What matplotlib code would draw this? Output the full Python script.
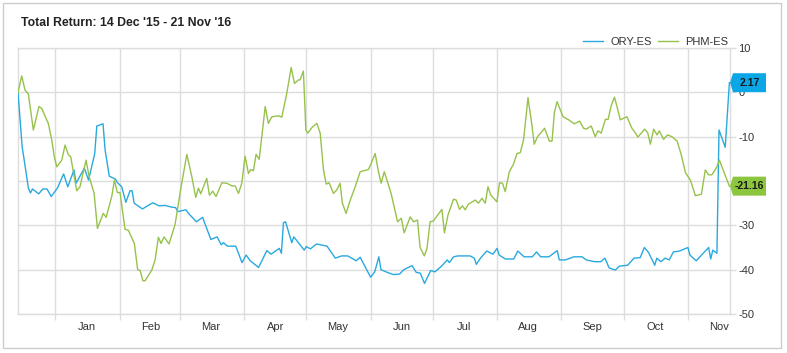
import matplotlib.pyplot as plt
import matplotlib.dates as mdates
import numpy as np
import pandas as pd
from matplotlib.patches import Rectangle, Polygon
from matplotlib.transforms import blended_transform_factory

# Total return series: day offset from the start date and % return
start_date = '2015-12-14'
end_day = 343.3

ory_days = [0, 2, 3, 5, 6, 7, 10, 12, 14, 16, 19, 22, 24, 27, 28, 32, 34, 37, 38, 41,
            42, 44, 47, 48, 50, 52, 54, 55, 56, 60, 65, 68, 71, 74, 76, 77, 81, 82, 86, 89,
            91, 93, 96, 98, 99, 101, 105, 108, 110, 112, 116, 120, 122, 126, 127, 128, 129, 132, 133, 138,
            139, 141, 144, 149, 153, 156, 159, 162, 163, 165, 170, 172, 174, 175, 178, 181, 184, 186, 190, 192,
            194, 196, 199, 201, 204, 207, 208, 210, 212, 218, 220, 221, 223, 226, 229, 231, 232, 235, 239, 241,
            244, 248, 250, 252, 256, 260, 261, 264, 268, 272, 274, 278, 281, 283, 285, 288, 290, 294, 297, 300,
            302, 304, 307, 308, 310, 312, 314, 316, 319, 323, 324, 327, 331, 333, 334, 335, 337, 338, 341, 343]
ory_vals = [0, -12.3, -15.3, -21.6, -22.7, -21.8, -22.9, -21.8, -21.8, -23.5, -21.6, -18.4, -21.3, -17.5, -20.5, -17.1, -19.8, -13.8, -7.6, -7.1,
            -13.0, -18.9, -19.6, -20.4, -21.3, -24.8, -22.2, -22.2, -25.0, -26.3, -24.9, -25.6, -25.5, -25.9, -26.0, -26.9, -26.5, -27.2, -29.2, -28.2,
            -30.7, -33.2, -32.6, -34.4, -33.9, -34.7, -34.7, -38.4, -36.7, -38.0, -39.5, -35.7, -36.5, -35.2, -36.3, -29.4, -29.2, -33.9, -32.6, -35.6,
            -34.8, -35.3, -34.2, -34.7, -37.4, -36.9, -36.9, -37.7, -38.0, -37.2, -41.7, -40.5, -37.1, -40.0, -40.6, -41.1, -41.0, -40.0, -39.1, -40.6,
            -40.8, -43.1, -40.2, -40.5, -39.3, -37.8, -38.4, -37.1, -36.9, -36.9, -37.4, -38.8, -37.4, -35.8, -36.5, -35.2, -36.7, -37.6, -37.6, -35.8,
            -37.1, -37.1, -36.0, -37.1, -37.1, -35.7, -37.8, -37.8, -37.1, -37.1, -37.8, -38.2, -38.2, -37.4, -39.6, -40.1, -39.2, -39.0, -37.4, -37.3,
            -35.0, -36.1, -39.0, -37.4, -38.2, -37.4, -37.8, -36.0, -35.8, -35.0, -36.7, -38.0, -36.0, -35.0, -37.6, -35.6, -36.3, -8.5, -12.4, 2.17]

phm_days = [0, 1.8, 3.4, 5, 7.4, 10.1, 11.4, 14.6, 16.3, 17.5, 18.7, 21.1, 22.7, 24.3, 25.4, 28.3, 29.9, 32.8, 34.3, 36.7,
            38.3, 41.1, 42.5, 45.2, 46.5, 47.9, 49.2, 51.6, 53.2, 56.1, 57.7, 58.9, 60.2, 61.3, 64.5, 66.1, 67.7, 69, 70.4, 72.8,
            75.7, 78.5, 81.4, 83.8, 85.7, 87, 88.1, 91, 92.3, 93.9, 95.5, 98.3, 100.7, 103.1, 104.7, 106.3, 107.9, 109.5, 111.1, 112.3,
            113.5, 114.8, 116.3, 119.2, 120.7, 122.4, 125.6, 127.2, 129.6, 131.7, 133.3, 135.2, 136, 137.6, 138.8, 139.7, 142, 144.1, 145.7, 147.3,
            148.6, 150, 152.1, 153.7, 155.3, 156.4, 158.2, 160.2, 162.6, 165, 169, 170.3, 172.2, 173.8, 175.1, 176.6, 179.9, 183, 184.8, 186.2,
            189.1, 190.7, 192.6, 193.9, 195.9, 197.2, 198.7, 200.3, 204.4, 205.6, 207.3, 210, 211.3, 212.9, 214.3, 215.6, 217.2, 220.5, 222, 223.7,
            225.3, 226.6, 228, 230.9, 232.2, 233.6, 234.9, 236.9, 238.9, 240.6, 242.2, 243.8, 245.9, 247.8, 248.9, 250.5, 253.9, 256.2, 257.5, 258.6,
            259.9, 262.8, 265.5, 268.2, 270.8, 272.7, 274, 276.4, 278.3, 279.6, 281.2, 283.2, 284.5, 286.1, 287.6, 288.8, 290.4, 293.6, 296, 297.3,
            298.9, 302.1, 303.6, 304.9, 306.5, 308.1, 309.2, 311.3, 313.2, 315.3, 317.8, 319.8, 321.8, 324.2, 326.6, 329.5, 331.4, 333, 334.6, 337,
            338.2, 340.3, 343]
phm_vals = [0, 3.7, 0.5, -0.4, -8.5, -3.2, -3.6, -7.0, -10.8, -14.5, -16.8, -15.3, -11.9, -14.1, -14.5, -22.2, -21.3, -15.3, -19.0, -22.8,
            -30.7, -27.3, -28.2, -23.5, -19.8, -22.6, -22.6, -30.9, -31.1, -34.1, -40.0, -40.2, -42.5, -42.5, -40.1, -37.8, -32.7, -34.1, -32.6, -34.2,
            -29.9, -21.7, -14.0, -19.0, -23.7, -21.6, -22.9, -19.4, -23.2, -22.3, -23.5, -20.4, -20.5, -21.1, -21.1, -22.8, -20.5, -14.4, -18.3, -17.4,
            -17.7, -14.0, -15.1, -3.2, -7.0, -5.5, -5.3, -5.6, -0.2, 5.6, 2.0, 2.8, 2.8, 4.8, -8.5, -9.2, -7.8, -7.0, -9.2, -17.5,
            -20.7, -20.4, -22.8, -22.0, -20.5, -25.0, -27.3, -24.3, -21.3, -17.9, -17.4, -16.0, -13.8, -17.9, -20.5, -17.9, -22.8, -29.2, -28.4, -31.7,
            -28.1, -29.2, -28.8, -35.0, -36.9, -35.2, -29.2, -29.0, -26.4, -31.7, -27.7, -24.1, -24.3, -26.4, -25.6, -26.5, -25.2, -24.3, -25.0, -23.9,
            -25.0, -21.3, -23.2, -24.7, -20.4, -20.5, -22.4, -17.9, -16.2, -13.8, -13.6, -10.6, -1.2, -7.4, -11.7, -10.0, -8.1, -11.0, -11.0, -4.6,
            -2.1, -5.5, -6.2, -7.1, -6.5, -8.1, -8.3, -7.6, -10.0, -8.7, -9.2, -6.1, -6.1, -2.9, -1.1, -3.2, -6.2, -5.5, -8.1, -8.9,
            -10.1, -8.3, -9.1, -11.7, -8.3, -9.6, -8.7, -10.6, -9.6, -10.0, -11.0, -14.1, -18.1, -19.8, -23.3, -23.0, -17.5, -18.6, -18.6, -16.8,
            -15.3, -17.9, -21.16]

series_names = ['ORY-ES', 'PHM-ES']
series_colors = ['#29a9df', '#97c24a']
label_colors = ['#0aa6e6', '#8cc63f']
last_labels = ['2.17', '-21.16']
y_ticks = [10, 0, -10, -20, -30, -40, -50]
y_hidden = [-20]  # covered by the PHM-ES tag in the reference
label_months = list(range(1, 12))  # Jan .. Nov
title = "Total Return: 14 Dec '15 - 21 Nov '16"

plt.rcParams['font.family'] = ['Liberation Sans', 'DejaVu Sans']
grid_color = '#dddddd'
text_color = '#333333'


def to_dates(days):
    return pd.Timestamp(start_date) + pd.to_timedelta(np.array(days, dtype=float), unit='D')


fig = plt.figure(figsize=(7.87, 3.53), dpi=100)
fig.patches.append(Rectangle((2.5 / 787, 5.5 / 353), 778 / 787, 345 / 353, transform=fig.transFigure,
                             fill=False, edgecolor='#cccccc', linewidth=1))
ax = fig.add_axes([18 / 787, 1 - 314 / 353, 712 / 787, 266 / 353])

ax.plot(to_dates(ory_days), ory_vals, color=series_colors[0], linewidth=1.0, label=series_names[0], zorder=3)
ax.plot(to_dates(phm_days), phm_vals, color=series_colors[1], linewidth=1.0, label=series_names[1], zorder=3)

ax.set_xlim(pd.Timestamp(start_date), pd.Timestamp(start_date) + pd.Timedelta(days=end_day))
ax.set_ylim(-50, 10)

# month boundaries carry the grid, month names sit mid-month
ax.xaxis.set_major_locator(mdates.MonthLocator(bymonthday=1))
ax.xaxis.set_major_formatter(plt.NullFormatter())
ax.xaxis.set_minor_locator(mdates.MonthLocator(bymonth=label_months, bymonthday=16))
ax.xaxis.set_minor_formatter(mdates.DateFormatter('%b'))
ax.tick_params(axis='x', which='major', length=4, color=grid_color, width=1)
ax.tick_params(axis='x', which='minor', length=0, pad=6, labelsize=8, labelcolor=text_color)

ax.set_yticks(y_ticks)
ax.set_yticklabels(['' if t in y_hidden else str(t) for t in y_ticks])
ax.yaxis.tick_right()
ax.tick_params(axis='y', length=4, color=grid_color, width=1, pad=2, labelsize=8, labelcolor=text_color)

ax.grid(True, which='major', color=grid_color, linewidth=1)
for s in ax.spines.values():
    s.set_color(grid_color)
    s.set_linewidth(1)

fig.text(21 / 787, 1 - 23 / 353, title, fontsize=8.8, fontweight='bold', color='#222222', va='center')

ax.legend(loc='lower right', bbox_to_anchor=(0.997, 1.005), ncol=2, frameon=False, fontsize=8,
          handlelength=1.8, handletextpad=0.6, columnspacing=0.6, borderaxespad=0, borderpad=0,
          labelcolor=text_color)

# last-value tags on the right edge, fixed width like the reference
trans = blended_transform_factory(ax.transAxes, ax.transData)
px_x = 1 / 712          # one pixel in axes units
px_y = 60 / 266         # one pixel in data units
for vals, col, txt in zip([ory_vals, phm_vals], label_colors, last_labels):
    last = vals[-1]
    x0 = 1.0 + 3 * px_x
    w = 33 * px_x
    h = 19 * px_y
    tag = Polygon([[x0 - 3 * px_x, last], [x0, last + h / 2], [x0 + w, last + h / 2],
                   [x0 + w, last - h / 2], [x0, last - h / 2]], closed=True,
                  transform=trans, facecolor=col, edgecolor='none', clip_on=False, zorder=5)
    ax.add_patch(tag)
    ax.text(x0 + w / 2, last, txt, transform=trans, ha='center', va='center', fontsize=7.5,
            fontweight='bold', color='#1a1a1a', zorder=6, clip_on=False)

fig.savefig('out.png', dpi=100, facecolor='white')
